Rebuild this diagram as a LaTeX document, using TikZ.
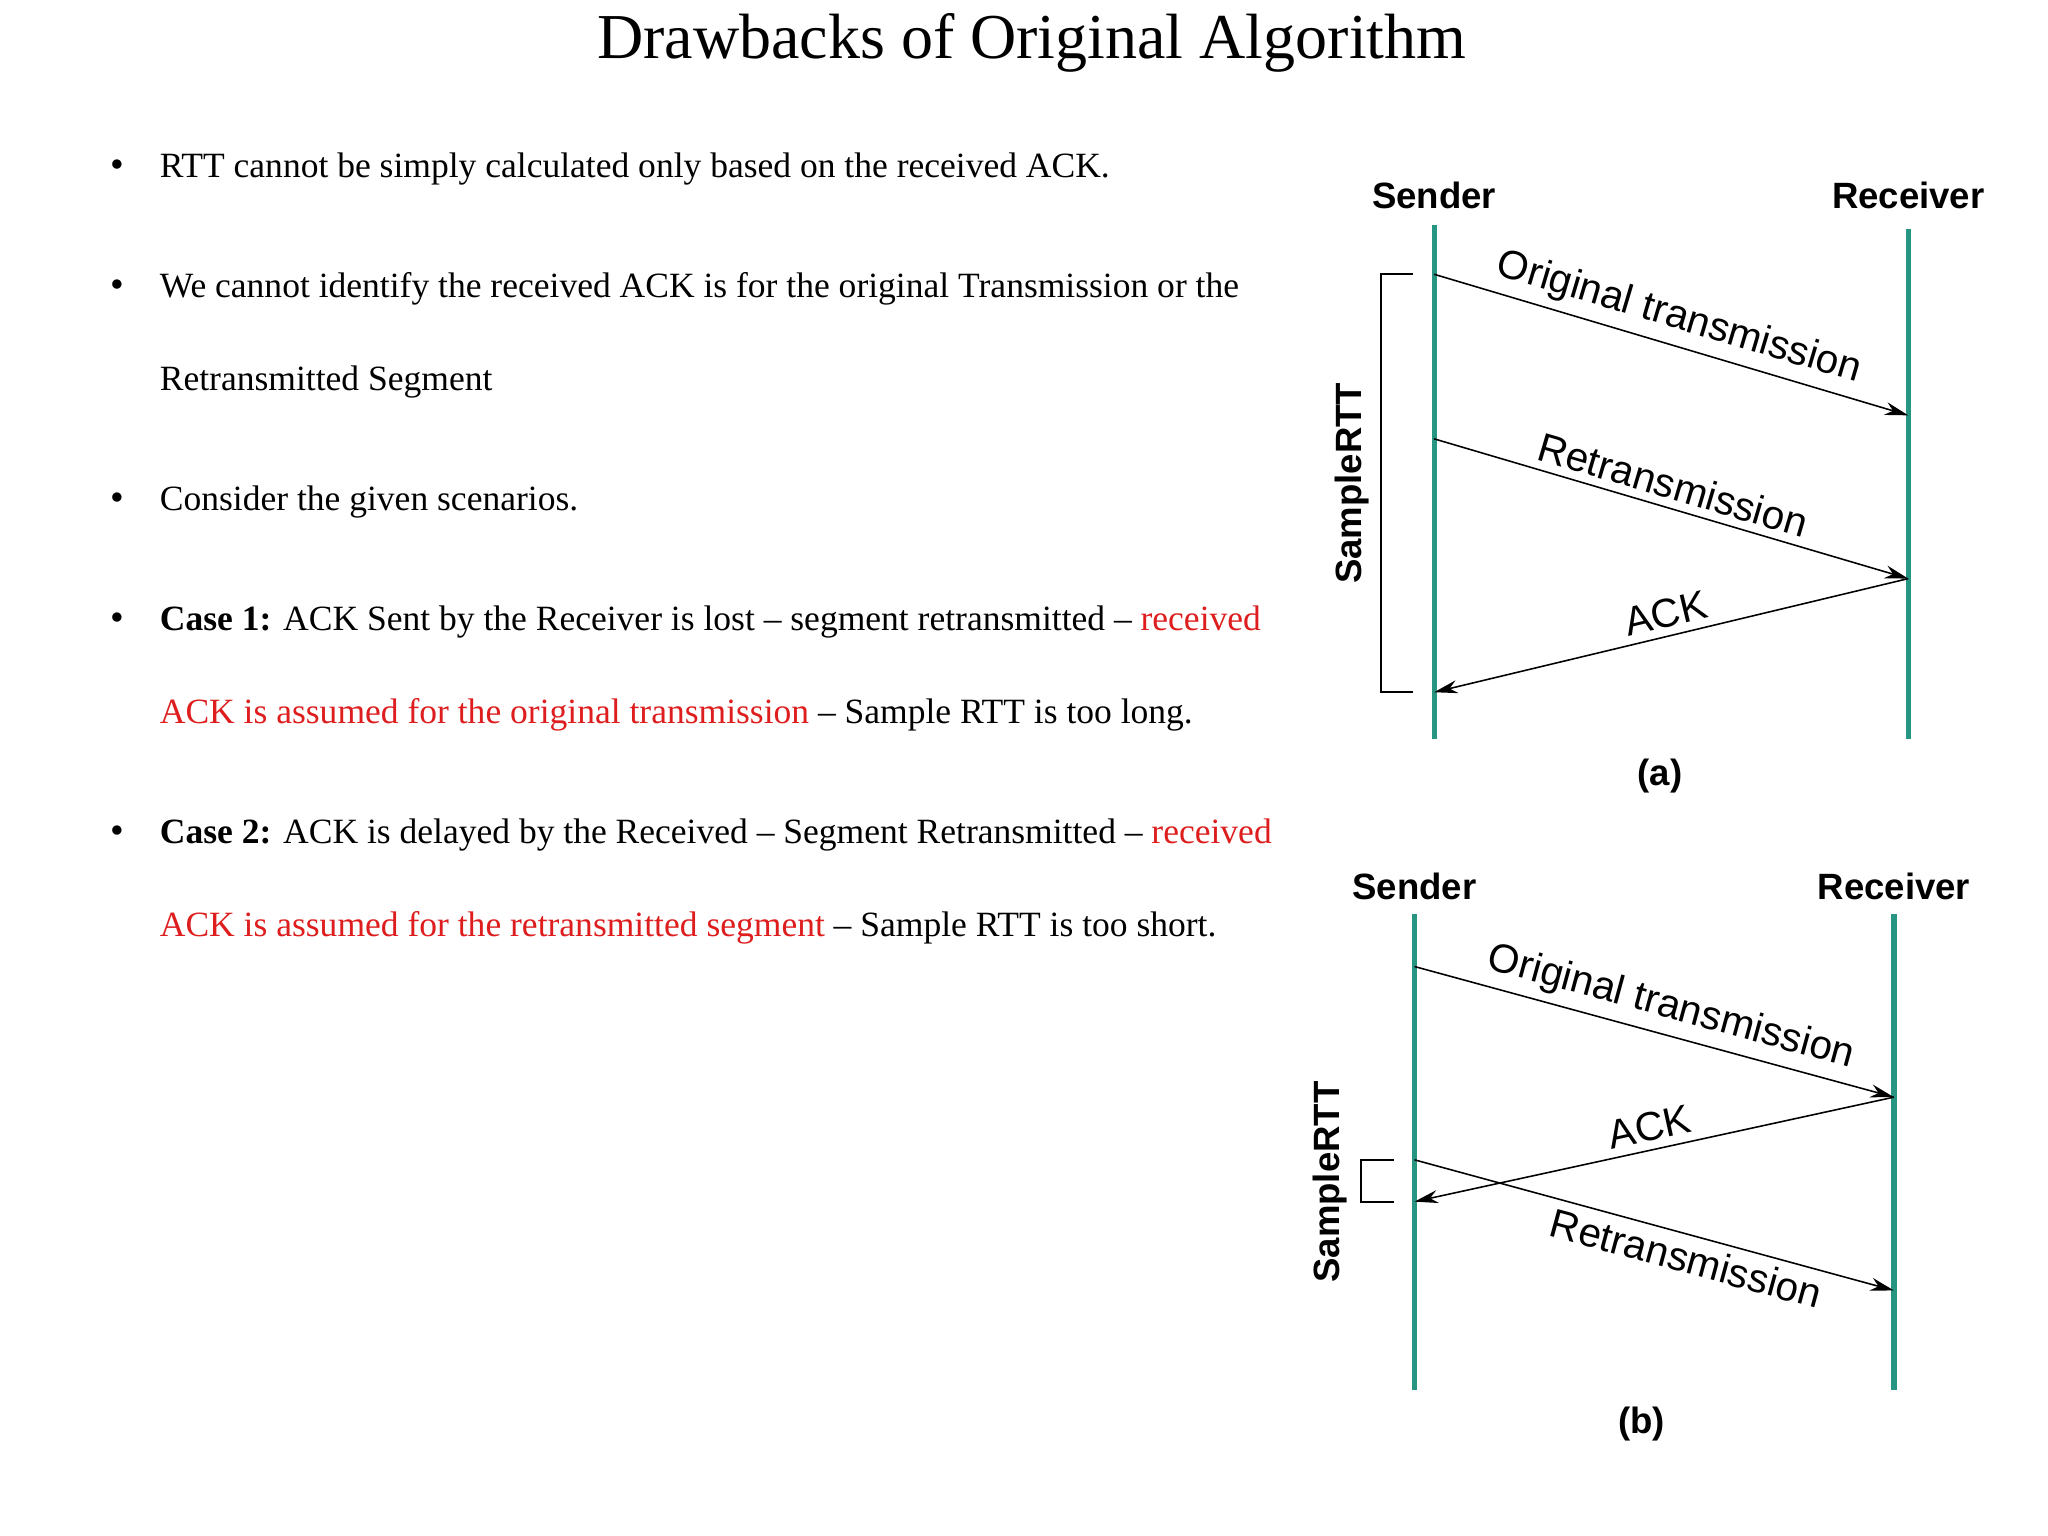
\documentclass[tikz,border=0pt]{standalone}
\usepackage{fontspec}
\setmainfont{Liberation Serif}
\newfontfamily\diag{Liberation Sans}
\usetikzlibrary{arrows.meta}
\definecolor{teal2}{RGB}{38,150,130}
\definecolor{redt}{RGB}{222,30,30}
\tikzset{
 life/.style={teal2,line width=2pt},
 msg/.style={line width=0.6pt,-{Stealth[length=9pt,width=5pt]}},
 lab/.style={font=\diag\bfseries\fontsize{14}{16}\selectfont},
 mlab/.style={font=\diag\fontsize{15.5}{17}\selectfont,sloped,above,midway,inner sep=3pt},
 mlabb/.style={font=\diag\fontsize{15.5}{17}\selectfont,sloped,below,midway,inner sep=3pt},
 brk/.style={line width=0.8pt},
 bl/.style={anchor=base west,inner sep=0,font=\fontsize{13.6}{15}\selectfont},
 dot/.style={anchor=base,inner sep=0,font=\fontsize{15}{15}\selectfont}
}
\begin{document}
\begin{tikzpicture}[x=0.5pt,y=-0.5pt]
\fill[white] (0,0) rectangle (1568,1176);
\useasboundingbox (0,0) rectangle (1568,1176);
\node[font=\fontsize{24.5}{28}\selectfont] (title) at (790,33) {Drawbacks of Original Algorithm};
\foreach \y/\n in {128/b1,220/b2,383/b3,475/b4,638/b5}{\node[dot] (\n) at (90,\y+8) {\textbullet};}
\node[bl] (t1) at (122,136) {RTT cannot be simply calculated only based on the received ACK.};
\node[bl] (t2) at (122,228) {We cannot identify the received ACK is for the original Transmission or the};
\node[bl] (t3) at (122,299) {Retransmitted Segment};
\node[bl] (t4) at (122,391) {Consider the given scenarios.};
\node[bl] (t5) at (122,483) {\textbf{Case 1:} ACK Sent by the Receiver is lost -- segment retransmitted -- \textcolor{redt}{received}};
\node[bl] (t6) at (122,554) {\textcolor{redt}{ACK is assumed for the original transmission} -- Sample RTT is too long.};
\node[bl] (t7) at (122,646) {\textbf{Case 2:} ACK is delayed by the Received -- Segment Retransmitted -- \textcolor{redt}{received}};
\node[bl] (t8) at (122,717) {\textcolor{redt}{ACK is assumed for the retransmitted segment} -- Sample RTT is too short.};
% diagram (a)
\coordinate (sa1) at (1098,172); \coordinate (sa2) at (1098,566);
\coordinate (ra1) at (1461,175); \coordinate (ra2) at (1461,566);
\draw[life] (sa1)--(sa2); \draw[life] (ra1)--(ra2);
\node[lab] (sna) at (1098,150) {Sender};
\node[lab] (rca) at (1461,150) {Receiver};
\coordinate (a1) at (1098,210); \coordinate (a2) at (1461,318);
\coordinate (a3) at (1098,336); \coordinate (a4) at (1461,443);
\coordinate (a5) at (1098,530);
\draw[msg] (a1) -- node[mlab,pos=0.5]{Original transmission} (a2);
\draw[msg] (a3) -- node[mlab,pos=0.49]{Retransmission} (a4);
\draw[msg] (a4) -- node[mlab,pos=0.5]{ACK} (a5);
\draw[brk] ([xshift=-8]a1) -- ++(-25,0) |- ([xshift=-8]a5);
\node[lab,rotate=90] (sra) at (1035,370) {SampleRTT};
\node[lab] (capa) at (1271,594) {(a)};
% diagram (b)
\coordinate (sb1) at (1083,700); \coordinate (sb2) at (1083,1064);
\coordinate (rb1) at (1450,700); \coordinate (rb2) at (1450,1064);
\draw[life] (sb1)--(sb2); \draw[life] (rb1)--(rb2);
\node[lab] (snb) at (1083,679) {Sender};
\node[lab] (rcb) at (1450,679) {Receiver};
\coordinate (b1) at (1083,740); \coordinate (b2) at (1450,840);
\coordinate (b3) at (1083,920); \coordinate (b4) at (1083,888);
\coordinate (b5) at (1450,988);
\draw[msg] (b1) -- node[mlab,pos=0.52]{Original transmission} (b2);
\draw[msg] (b2) -- node[mlab,pos=0.5]{ACK} (b3);
\draw[msg] (b4) -- node[mlabb,pos=0.58]{Retransmission} (b5);
\draw[brk] ([xshift=-8]b4) -- ++(-25,0) |- ([xshift=-8]b3);
\node[lab,rotate=90] (srb) at (1018,905) {SampleRTT};
\node[lab] (capb) at (1257,1090) {(b)};
\end{tikzpicture}
\end{document}
